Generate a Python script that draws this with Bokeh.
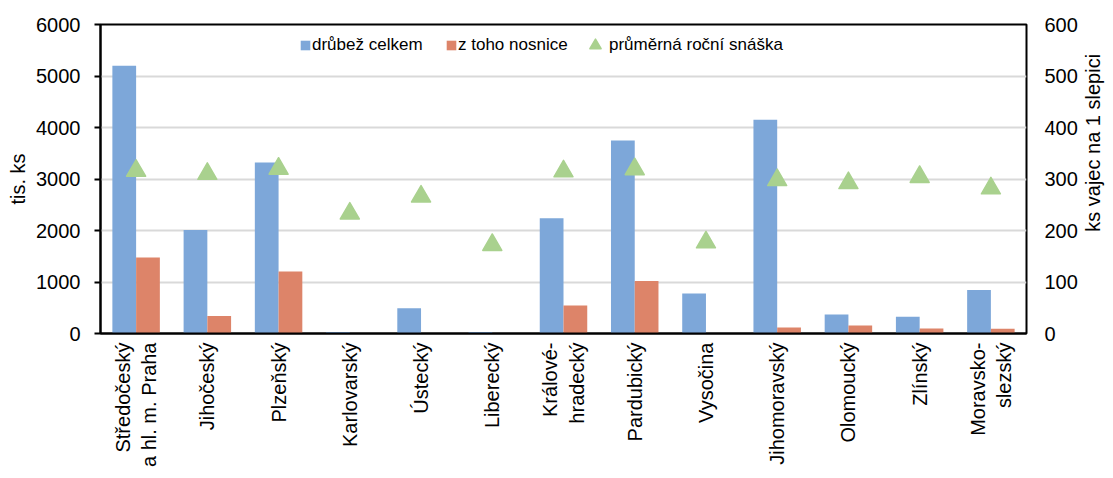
import math
from bokeh.plotting import figure
from bokeh.layouts import row
from bokeh.models import (FactorRange, Range1d, LinearAxis, Legend, LegendItem,
                          ColumnDataSource)
from bokeh.core.properties import value
from bokeh.transform import dodge
from bokeh.embed import file_html
from bokeh.resources import INLINE

# ---- data ----
regions = ["Středočeský\na hl. m. Praha", "Jihočeský", "Plzeňský", "Karlovarský",
           "Ústecký", "Liberecký", "Králové-\nhradecký", "Pardubický", "Vysočina",
           "Jihomoravský", "Olomoucký", "Zlínský", "Moravsko-\nslezský"]
drubez_celkem = [5200, 2010, 3320, 30, 490, 30, 2240, 3750, 775, 4150, 370, 325, 845]
z_toho_nosnice = [1475, 340, 1205, 0, 0, 0, 545, 1020, 0, 115, 155, 95, 90]
rocni_snaska = [316, 310, 320, 233, 266, 172, 315, 319, 177, 298, 292, 304, 282]

left_ticks = [0, 1000, 2000, 3000, 4000, 5000, 6000]
right_ticks = [0, 100, 200, 300, 400, 500, 600]
right_title = "ks vajec na 1 slepici"

BLUE = "#7DA7D9"
ORANGE = "#DD8469"
GREEN = "#A9D18E"
FONT = "Liberation Sans"

src = ColumnDataSource(dict(cat=regions, d=drubez_celkem, n=z_toho_nosnice, s=rocni_snaska))

W, H = 1080, 470
ML, MR, MT, MB = 100, 52, 24, 134

p = figure(x_range=FactorRange(*regions), y_range=Range1d(0, 6000),
           width=W, height=H, output_backend="svg", toolbar_location=None,
           min_border_left=ML, min_border_right=MR, min_border_top=MT, min_border_bottom=MB)
p.extra_y_ranges = {"right": Range1d(0, 600)}

r_d = p.vbar(x=dodge("cat", -1/6, range=p.x_range), top="d", width=1/3, source=src,
             fill_color=BLUE, line_color=None)
r_n = p.vbar(x=dodge("cat", 1/6, range=p.x_range), top="n", width=1/3, source=src,
             fill_color=ORANGE, line_color=None)
r_s = p.scatter(x="cat", y="s", marker="triangle", size=19, source=src, y_range_name="right",
                fill_color=GREEN, line_color=GREEN, line_width=1.5, line_join="round")

# frame/outline
p.outline_line_color = "black"
p.outline_line_width = 2
p.background_fill_color = "white"
p.border_fill_color = "white"

# grids
p.xgrid.grid_line_color = None
p.ygrid.grid_line_color = "#D9D9D9"
p.ygrid.grid_line_width = 2
p.ygrid.ticker = left_ticks

# left axis
ya = p.yaxis[0]
ya.ticker = left_ticks
ya.axis_label = "tis. ks"
ya.axis_label_text_font = FONT
ya.axis_label_text_font_size = "20px"
ya.axis_label_text_font_style = "normal"
ya.axis_label_text_color = "black"
ya.axis_label_standoff = 4
ya.major_label_text_font = FONT
ya.major_label_text_font_size = "20px"
ya.major_label_text_color = "black"
ya.axis_line_color = "black"
ya.axis_line_width = 2
ya.major_tick_line_color = "black"
ya.major_tick_line_width = 2
ya.major_tick_out = 6
ya.major_tick_in = 0
ya.minor_tick_line_color = None
ya.major_label_standoff = 14

# right axis (tick labels only; its title is drawn in the narrow strip beside)
ra = LinearAxis(y_range_name="right", ticker=right_ticks)
ra.major_label_text_font = FONT
ra.major_label_text_font_size = "20px"
ra.major_label_text_color = "black"
ra.axis_line_color = None
ra.major_tick_line_color = None
ra.major_tick_out = 0
ra.minor_tick_line_color = None
ra.major_label_standoff = 18
p.add_layout(ra, "right")

# bottom axis
xa = p.xaxis[0]
xa.major_label_orientation = math.pi / 2
xa.major_label_text_font = FONT
xa.major_label_text_font_size = "20px"
xa.major_label_text_color = "black"
xa.axis_line_color = "black"
xa.axis_line_width = 2
xa.major_tick_line_color = None
xa.major_tick_out = 0
xa.minor_tick_line_color = None
xa.major_label_standoff = 9

# legends (one per item to control glyph sizes)
def mk_legend(label, rend, loc, gw, gh, standoff):
    lg = Legend(items=[LegendItem(label=label, renderers=[rend])], location=loc,
                orientation="horizontal", glyph_width=gw, glyph_height=gh,
                label_standoff=standoff, padding=0, margin=0, spacing=0,
                border_line_color=None, background_fill_alpha=0,
                label_text_font=FONT, label_text_font_size="17px", label_text_color="black",
                label_height=20)
    p.add_layout(lg, "center")

mk_legend("drůbež celkem", r_d, (199, 278), 12, 12, 1)
mk_legend("z toho nosnice", r_n, (345, 278), 12, 12, 1)
mk_legend("průměrná roční snáška", r_s, (481, 274), 28, 28, -7)

# narrow strip holding the right-axis title, reading bottom-to-top
q = figure(width=25, height=H, x_range=Range1d(-1, 1), y_range=Range1d(0, H),
           output_backend="svg", toolbar_location=None,
           min_border=0, outline_line_color=None)
q.axis.visible = False
q.grid.visible = False
q.text(x=[0], y=[H - MT - (H - MT - MB) / 2], text=[right_title], angle=math.pi / 2,
       text_align="center", text_baseline="middle",
       text_font=value(FONT), text_font_size="20px", text_color="black")

layout = row(p, q, spacing=0)
open("out.html", "w").write(file_html(layout, INLINE))
